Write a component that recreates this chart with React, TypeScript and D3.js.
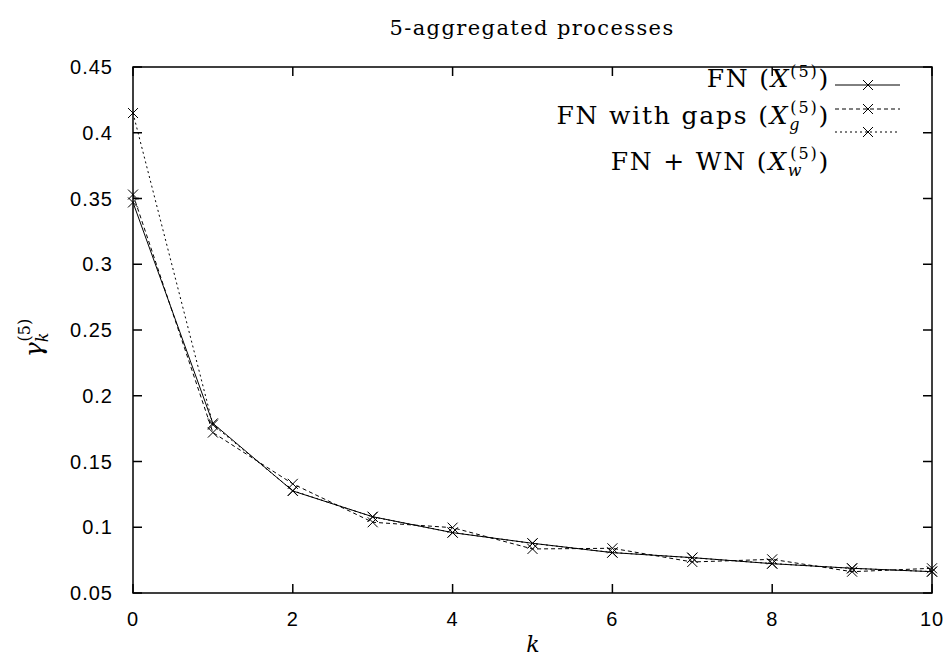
import React from "react";
import * as d3 from "d3";

const lags = [0, 1, 2, 3, 4, 5, 6, 7, 8, 9, 10];
const fnValues = [0.347, 0.179, 0.1276, 0.108, 0.0959, 0.0878, 0.0807, 0.0769, 0.0723, 0.0688, 0.0662];
const gapsValues = [0.353, 0.172, 0.133, 0.1038, 0.0997, 0.0835, 0.084, 0.0736, 0.0756, 0.0662, 0.0688];
const wnValues = [0.415, 0.178, 0.1278, 0.1079, 0.096, 0.0877, 0.0808, 0.0768, 0.0724, 0.0687, 0.0663];
const xTicks = [0, 2, 4, 6, 8, 10];
const yTicks = [0.05, 0.1, 0.15, 0.2, 0.25, 0.3, 0.35, 0.4, 0.45];

const W = 944, H = 662;
const M = { left: 133, right: 932, top: 67, bottom: 593 };

const series = [
  { name: "fn", values: fnValues, dash: "none" },
  { name: "gaps", values: gapsValues, dash: "4,3" },
  { name: "wn", values: wnValues, dash: "2,3" },
];

function Cross({ x, y }: { x: number; y: number }) {
  const s = 5;
  return (
    <path d={`M${x - s},${y - s}L${x + s},${y + s}M${x - s},${y + s}L${x + s},${y - s}`} stroke="#000" strokeWidth={1} fill="none" />
  );
}

export default function App() {
  const x = d3.scaleLinear().domain([0, 10]).range([M.left, M.right]);
  const y = d3.scaleLinear().domain([0.05, 0.45]).range([M.bottom, M.top]);
  const line = d3.line<number>().x((_, i) => x(lags[i])).y((d) => y(d));
  const tickLen = 9;
  const serif = "'DejaVu Serif', serif";
  const sans = "'Liberation Sans', Arial, sans-serif";
  const legendRows = [
    { ly: 85, dash: "none" },
    { ly: 109, dash: "4,3" },
    { ly: 132, dash: "2,3" },
  ];
  const lfs = 25;
  const sfs = 16;
  const ls = 1.8;
  return (
    <svg width={W} height={H} viewBox={`0 0 ${W} ${H}`} style={{ position: "absolute", left: 0, top: 0, background: "#fff" }}>
      <rect x={0} y={0} width={W} height={H} fill="#fff" />
      {/* title */}
      <text x={532} y={35} textAnchor="middle" fontFamily={serif} fontSize={21} letterSpacing={1.4} fill="#000">5-aggregated processes</text>
      {/* frame */}
      <rect x={M.left} y={M.top} width={M.right - M.left} height={M.bottom - M.top} fill="none" stroke="#000" strokeWidth={1.5} />
      {/* ticks */}
      {yTicks.map((t) => (
        <g key={"y" + t}>
          <line x1={M.left} x2={M.left + tickLen} y1={y(t)} y2={y(t)} stroke="#000" strokeWidth={1.5} />
          <line x1={M.right} x2={M.right - tickLen} y1={y(t)} y2={y(t)} stroke="#000" strokeWidth={1.5} />
          <text x={M.left - 20} y={y(t) + 7} textAnchor="end" fontFamily={sans} fontSize={20} letterSpacing={1} fill="#000">{String(t)}</text>
        </g>
      ))}
      {xTicks.map((t) => (
        <g key={"x" + t}>
          <line x1={x(t)} x2={x(t)} y1={M.bottom} y2={M.bottom - tickLen} stroke="#000" strokeWidth={1.5} />
          <line x1={x(t)} x2={x(t)} y1={M.top} y2={M.top + tickLen} stroke="#000" strokeWidth={1.5} />
          <text x={x(t)} y={M.bottom + 33} textAnchor="middle" fontFamily={sans} fontSize={20} letterSpacing={1} fill="#000">{String(t)}</text>
        </g>
      ))}
      {/* series */}
      {series.map((s) => (
        <g key={s.name}>
          <path d={line(s.values) || ""} fill="none" stroke="#000" strokeWidth={1} strokeDasharray={s.dash} />
          {s.values.map((v, i) => (
            <Cross key={i} x={x(lags[i])} y={y(v)} />
          ))}
        </g>
      ))}
      {/* legend */}
      {legendRows.map((r, i) => (
        <g key={"leg" + i}>
          <line x1={835} x2={900} y1={r.ly} y2={r.ly} stroke="#000" strokeWidth={1} strokeDasharray={r.dash} />
          <Cross x={868} y={r.ly} />
        </g>
      ))}
      <text x={830} y={87} textAnchor="end" fontFamily={serif} fontSize={lfs} letterSpacing={ls} fill="#000">
        FN (<tspan fontStyle="italic">X</tspan><tspan fontSize={sfs} dy={-10}>(5)</tspan><tspan dy={10}>)</tspan>
      </text>
      <text x={830} y={124} textAnchor="end" fontFamily={serif} fontSize={lfs} letterSpacing={ls} fill="#000">
        FN with gaps (<tspan fontStyle="italic">X</tspan><tspan fontSize={sfs} fontStyle="italic" dy={6}>g</tspan><tspan fontSize={sfs} dx={-11} dy={-17}>(5)</tspan><tspan dy={11}>)</tspan>
      </text>
      <text x={830} y={170} textAnchor="end" fontFamily={serif} fontSize={lfs} letterSpacing={ls} fill="#000">
        FN + WN (<tspan fontStyle="italic">X</tspan><tspan fontSize={sfs} fontStyle="italic" dy={6}>w</tspan><tspan fontSize={sfs} dx={-13} dy={-17}>(5)</tspan><tspan dy={11}>)</tspan>
      </text>
      {/* axis labels */}
      <text x={533} y={652} textAnchor="middle" fontFamily={serif} fontStyle="italic" fontSize={22} fill="#000">k</text>
      <g transform="translate(42,338) rotate(-90)">
        <text x={0} y={0} textAnchor="middle" fontFamily={serif} fontSize={25} fill="#000">
          <tspan fontStyle="italic">γ</tspan>
          <tspan fontStyle="italic" fontSize={16} dy={6}>k</tspan>
          <tspan fontSize={16} dy={-18} dx={-9}>(5)</tspan>
        </text>
      </g>
    </svg>
  );
}
